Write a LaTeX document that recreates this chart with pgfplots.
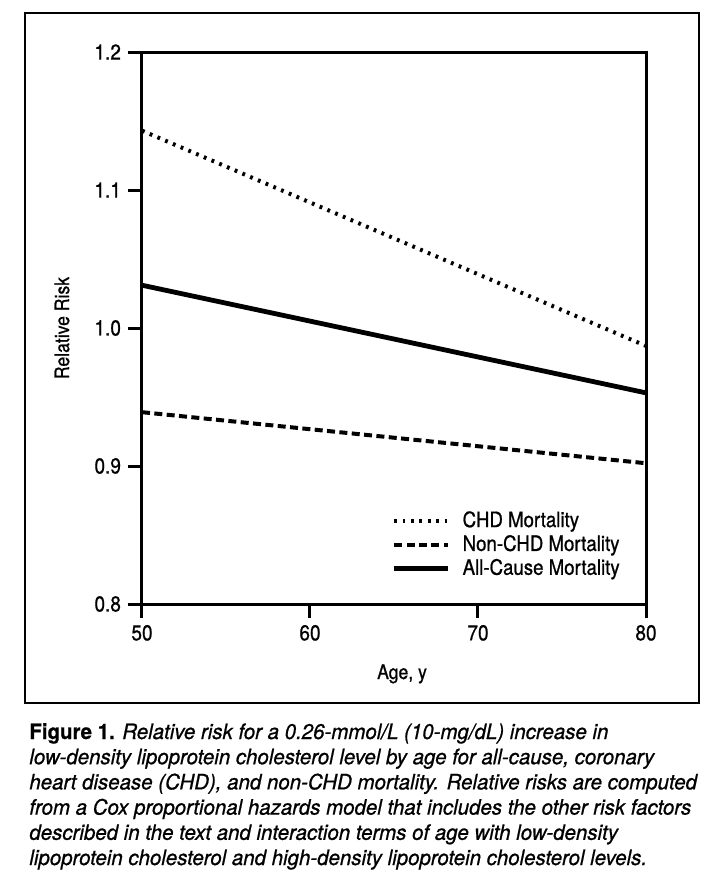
\documentclass[border=0pt]{standalone}
\usepackage{fontspec}
\setmainfont{TeX Gyre Heros}[FakeStretch=0.88, FakeBold=0.8]
\newfontfamily\capfont{TeX Gyre Heros}[FakeStretch=0.965, FakeBold=0.8]
\usepackage{pgfplots}
\pgfplotsset{compat=1.18}
\begin{document}
\begin{tikzpicture}
\useasboundingbox (-71pt,-140pt) rectangle (284pt,302pt);
\fill[white] (-71pt,-140pt) rectangle (284pt,302pt);
\draw[line width=1pt] (-58.5pt,-49.5pt) rectangle (278.5pt,295.5pt);
\begin{axis}[
  at={(0,0)}, anchor=south west,
  width=252pt, height=276pt, scale only axis,
  xmin=50, xmax=80, ymin=0.8, ymax=1.2,
  xtick={50,60,70,80},
  ytick={0.8,0.9,1.0,1.1,1.2},
  yticklabels={0.8,0.9,1.0,1.1,1.2},
  xtick pos=bottom, ytick pos=left,
  tick align=outside,
  major tick length=7pt,
  every tick/.style={line width=1.5pt, black},
  axis line style={line width=1.5pt},
  /pgf/number format/assume math mode=true,
  tick label style={font=\fontsize{10.8}{12}\selectfont},
  label style={font=\fontsize{10.6}{12}\selectfont},
  xlabel={Age, y},
  ylabel={Relative Risk},
  every axis x label/.style={at={(axis description cs:0.516,0)}, yshift=-37.5pt, anchor=base},
  every axis y label/.style={at={(axis description cs:0,0.5)}, xshift=-40pt, rotate=90, anchor=center},
  legend style={draw=none, fill=none, at={(rel axis cs:0.495,0.176)}, anchor=north west,
    inner sep=0pt, font=\fontsize{10.6}{12}\selectfont, row sep=-1.5pt,
    /tikz/every odd column/.append style={column sep=4pt}},
  legend cell align=left,
  legend image code/.code={\draw[#1] (0pt,0pt) -- (27pt,0pt);},
  clip=false,
]
\addplot[black, line width=2pt, dash pattern=on 1.4pt off 2.8pt] coordinates {(50,1.143) (80,0.987)};
\addlegendentry{CHD Mortality}
\addplot[black, line width=2pt, dash pattern=on 4pt off 2.2pt] coordinates {(50,0.939) (80,0.902)};
\addlegendentry{Non-CHD Mortality}
\addplot[black, line width=2.4pt] coordinates {(50,1.031) (80,0.953)};
\addlegendentry{All-Cause Mortality}
\end{axis}
\begin{scope}[every node/.style={anchor=base west, inner sep=0pt, font=\capfont\fontsize{10.6}{12}\selectfont\itshape}]
\node at (-56.5pt,-67.5pt) {\textbf{\upshape Figure 1.} Relative risk for a 0.26-mmol/L (10-mg/dL) increase in};
\node at (-56.5pt,-80.1pt) {low-density lipoprotein cholesterol level by age for all-cause, coronary};
\node at (-56.5pt,-92.7pt) {heart disease (CHD), and non-CHD mortality. Relative risks are computed};
\node at (-56.5pt,-105.3pt) {from a Cox proportional hazards model that includes the other risk factors};
\node at (-56.5pt,-117.9pt) {described in the text and interaction terms of age with low-density};
\node at (-56.5pt,-130.5pt) {lipoprotein cholesterol and high-density lipoprotein cholesterol levels.};
\end{scope}
\end{tikzpicture}
\end{document}
